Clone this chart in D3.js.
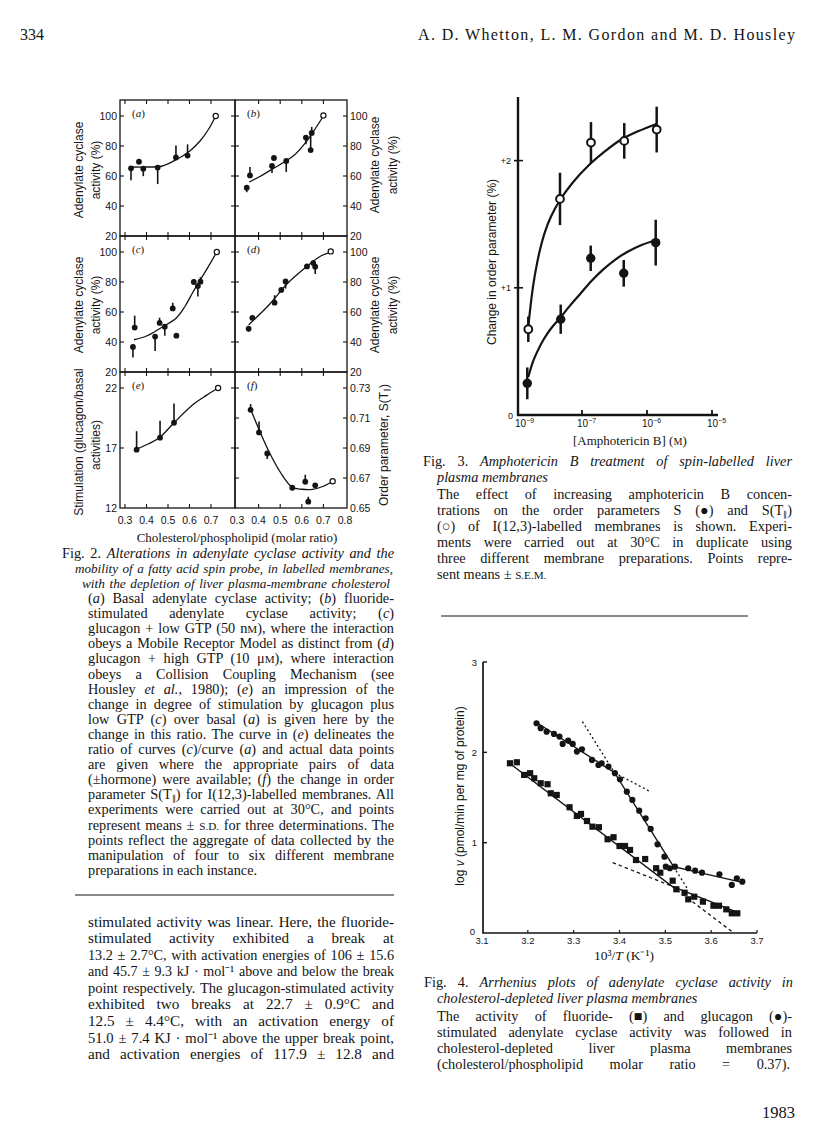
<!DOCTYPE html>
<html>
<head>
<meta charset="utf-8">
<script src="https://cdn.jsdelivr.net/npm/d3@7"></script>
<style>
  body { margin: 0; background: #fff; }
  svg { display: block; }
  text { fill: #141414; }
  .serif { font-family: "Liberation Serif", "Times New Roman", serif; }
  .sans { font-family: "Liberation Sans", Arial, sans-serif; }
</style>
</head>
<body>
<svg id="page" width="816" height="1136"></svg>
<script>
const svg = d3.select('#page');
const ink = '#141414';

// ---------- Fig. 2 data ----------
const ratioTicks = [0.3, 0.4, 0.5, 0.6, 0.7, 0.8];
const activityTicks = [20, 40, 60, 80, 100];
const stimTicks = [12, 17, 22];
const orderTicks = [0.65, 0.67, 0.69, 0.71, 0.73];

// [cholesterol/phospholipid, value, error bar (+ up / - down)]
const basalPts = [[0.328, 65.1, -8], [0.365, 69.5, 0], [0.385, 64.9, -5], [0.452, 65.6, -11], [0.537, 72.4, 8], [0.591, 73.6, 7.5]];
const basalOpen = [0.722, 100];
const basalFit = [[0.33, 66], [0.40, 66], [0.47, 66.5], [0.54, 71], [0.60, 76.5], [0.65, 83.5], [0.69, 91.5], [0.722, 100]];

const fluoridePts2 = [[0.345, 52.2, -3], [0.36, 60.4, 5.6], [0.462, 66.7, -4.7], [0.471, 72, 0], [0.528, 70, -7.3], [0.619, 85.6, -4.5], [0.646, 88.7, 4], [0.641, 77.3, 11]];
const fluorideOpen2 = [0.70, 100.4];
const fluorideFit2 = [[0.357, 56], [0.41, 60], [0.468, 65], [0.56, 73.3], [0.623, 83.3], [0.669, 93], [0.70, 100]];

const lowGtpPts = [[0.337, 36.7, -7], [0.345, 49.6, 8], [0.44, 43.6, -9.6], [0.461, 52.7, 3.5], [0.485, 50.2, -6], [0.522, 62.4, 3.8], [0.539, 44.2, 0], [0.62, 80, 2], [0.639, 77.3, -7], [0.651, 80.2, 3]];
const lowGtpOpen = [0.727, 100];
const lowGtpFit = [[0.342, 41.5], [0.40, 44], [0.462, 49], [0.54, 56.2], [0.58, 64], [0.617, 73.5], [0.68, 88.4], [0.727, 100]];

const highGtpPts = [[0.354, 48.9, -2], [0.371, 56.1, 0], [0.474, 66.2, 5], [0.505, 74.7, 0], [0.525, 80.4, -4.8], [0.624, 90.4, 0], [0.653, 92.6, 2], [0.662, 90.2, -4.8]];
const highGtpOpen = [0.734, 100.4];
const highGtpFit = [[0.354, 51.5], [0.45, 65], [0.53, 78.5], [0.62, 90], [0.69, 97.5], [0.734, 100]];

const stimPts = [[0.354, 16.86, 1.54], [0.463, 17.86, 1.4], [0.528, 19.1, 1.6]];
const stimOpen = [0.733, 22];
const stimFit = [[0.354, 16.9], [0.41, 17.35], [0.463, 17.9], [0.528, 19.1], [0.618, 20.64], [0.68, 21.4], [0.733, 22]];

const orderPts = [[0.363, 0.7155, 0.0038], [0.402, 0.7004, 0.0073], [0.44, 0.6864, -0.0037], [0.556, 0.6635, -0.001], [0.616, 0.6675, 0.0047], [0.63, 0.6542, 0.0033], [0.662, 0.6651, -0.0015]];
const orderOpen = [0.743, 0.6678];
const orderFit = [[0.36, 0.717], [0.40, 0.703], [0.45, 0.687], [0.50, 0.674], [0.556, 0.6638], [0.60, 0.6625], [0.649, 0.6624], [0.70, 0.6645], [0.743, 0.6678]];

// ---------- Fig. 3 data ----------
const amphoTicks = [-9, -7, -6, -5];           // log10 [Amphotericin B]
const changeTicks = [0, 1, 2];
const changeTickLabels = ['0', '+1', '+2'];
// [log10 conc, change %, s.e.m.]
const sParPts = [[-8.732, 0.674, 0.1], [-7.71, 1.699, 0.206], [-6.862, 2.142, 0.161], [-6.35, 2.155, 0.14], [-5.851, 2.244, 0.18]];
const sPts = [[-8.765, 0.249, 0.125], [-7.687, 0.753, 0.115], [-6.866, 1.232, 0.1], [-6.358, 1.114, 0.105], [-5.866, 1.355, 0.18]];
const sParFit = [[-8.732, 0.70], [-8.677, 0.82], [-8.613, 0.95], [-8.548, 1.06], [-8.452, 1.19], [-8.355, 1.30], [-8.194, 1.44], [-8.0, 1.56], [-7.71, 1.69], [-7.29, 1.83], [-6.923, 1.95], [-6.677, 2.06], [-6.415, 2.16], [-6.138, 2.23], [-5.846, 2.29]];
const sFit = [[-8.732, 0.30], [-8.581, 0.42], [-8.419, 0.51], [-8.248, 0.59], [-8.0, 0.68], [-7.687, 0.77], [-7.387, 0.86], [-7.065, 0.95], [-6.862, 1.05], [-6.672, 1.145], [-6.492, 1.22], [-6.312, 1.28], [-6.092, 1.335], [-5.851, 1.376]];

// ---------- Fig. 4 data ----------
const invTTicks = [3.1, 3.2, 3.3, 3.4, 3.5, 3.6, 3.7];
const logVTicks = [0, 1, 2, 3];
const glucagonPts = [[3.219, 2.322], [3.228, 2.267], [3.241, 2.229], [3.257, 2.204], [3.269, 2.174], [3.276, 2.093], [3.288, 2.13], [3.298, 2.093], [3.307, 2.008], [3.318, 2.034], [3.340, 1.916], [3.354, 1.860], [3.361, 1.879], [3.376, 1.842], [3.390, 1.769], [3.401, 1.702], [3.416, 1.565], [3.428, 1.473], [3.443, 1.354], [3.457, 1.270], [3.468, 1.152], [3.483, 0.982], [3.498, 0.845], [3.501, 0.734], [3.510, 0.717], [3.521, 0.734], [3.550, 0.717], [3.565, 0.690], [3.580, 0.668], [3.618, 0.650], [3.645, 0.532], [3.656, 0.606], [3.668, 0.568]];
const fluoridePts4 = [[3.161, 1.879], [3.176, 1.890], [3.192, 1.750], [3.205, 1.769], [3.214, 1.713], [3.228, 1.658], [3.243, 1.647], [3.250, 1.547], [3.263, 1.528], [3.291, 1.392], [3.307, 1.296], [3.316, 1.318], [3.329, 1.240], [3.341, 1.177], [3.355, 1.171], [3.374, 1.038], [3.387, 1.060], [3.400, 0.963], [3.412, 0.963], [3.423, 0.919], [3.436, 0.808], [3.456, 0.819], [3.480, 0.717], [3.489, 0.668], [3.516, 0.579], [3.524, 0.484], [3.542, 0.446], [3.550, 0.373], [3.563, 0.402], [3.582, 0.347], [3.605, 0.302], [3.617, 0.302], [3.633, 0.262], [3.645, 0.218], [3.657, 0.218]];
const glucagonFit = [[3.219, 2.33], [3.389, 1.775], [3.518, 0.734], [3.668, 0.561]];
const fluorideFit = [[3.16, 1.879], [3.514, 0.52], [3.663, 0.218]];
const glucagonExtrap = [[[3.319, 2.34], [3.389, 1.775]], [[3.389, 1.775], [3.467, 1.565]], [[3.518, 0.734], [3.547, 0.50]]];
const fluorideExtrap = [[[3.385, 0.78], [3.514, 0.52]], [[3.514, 0.52], [3.645, 0.017]]];

// ---------- text helpers ----------
// markup: *italic*  {small caps}  ~subscript~
function parseSegs(str) {
  const out = [];
  let cur = '', it = false, sc = false, sub = false;
  for (const ch of str) {
    if ('*{}~'.includes(ch)) {
      if (cur) out.push({ t: cur, it, sc, sub });
      cur = '';
      if (ch === '*') it = !it;
      else if (ch === '{') sc = true;
      else if (ch === '}') sc = false;
      else sub = !sub;
    } else cur += ch;
  }
  if (cur) out.push({ t: cur, it, sc, sub });
  return out;
}

function fillSegs(t, str) {
  parseSegs(str).forEach(s => {
    const ts = t.append('tspan').text(s.t);
    if (s.it) ts.attr('font-style', 'italic');
    if (s.sc) ts.attr('font-size', '0.78em');
    if (s.sub) ts.attr('font-size', '0.58em').attr('baseline-shift', '-0.2em');
  });
}

// width > 0: justify to that width (shrinks the font when the line is too long)
function writeLine(x, y, str, size, width, family) {
  const t = svg.append('text')
    .attr('class', family || 'serif')
    .attr('x', x).attr('y', y)
    .attr('font-size', size);
  fillSegs(t, str);
  if (width) {
    const gaps = (str.replace(/[*{}~]/g, '').match(/ /g) || []).length;
    let natural = t.node().getComputedTextLength();
    const minGap = gaps * 1.2;
    if (natural + minGap > width) {
      t.attr('font-size', size * (width - minGap) / natural);
      natural = t.node().getComputedTextLength();
    }
    if (gaps) t.style('word-spacing', ((width - natural) / gaps) + 'px');
  }
  return t;
}

function rotLabel(x, y, str, size, family) {
  const t = svg.append('text')
    .attr('class', family || 'sans')
    .attr('font-size', size)
    .attr('text-anchor', 'middle')
    .attr('transform', `translate(${x},${y}) rotate(-90)`);
  fillSegs(t, str);
  return t;
}

// ---------- page header / footer ----------
writeLine(20, 40, '334', 16);
svg.append('text').attr('class', 'serif').attr('x', 418).attr('y', 40).attr('font-size', 16)
  .attr('textLength', 377).attr('lengthAdjust', 'spacing')
  .text('A. D. Whetton, L. M. Gordon and M. D. Housley');
svg.append('text').attr('class', 'serif').attr('x', 795).attr('y', 1118).attr('font-size', 16.5)
  .attr('text-anchor', 'end').text('1983');

// ---------- Fig. 2 panels ----------
const fig2Cols = [
  { x0: 120, x1: 235, range: [125, 232.5], labels: ratioTicks.slice(0, 5) },
  { x0: 235, x1: 347, range: [237, 345], labels: ratioTicks }
];
const fig2Rows = [{ y0: 100, y1: 236 }, { y0: 236, y1: 372 }, { y0: 372, y1: 508 }];

const fig2Panels = [
  { tag: 'a', col: 0, row: 0, domain: [20, 110.67], ticks: activityTicks, pts: basalPts, open: basalOpen, fit: basalFit },
  { tag: 'b', col: 1, row: 0, domain: [20, 110.67], ticks: activityTicks, pts: fluoridePts2, open: fluorideOpen2, fit: fluorideFit2 },
  { tag: 'c', col: 0, row: 1, domain: [20, 110.67], ticks: activityTicks, pts: lowGtpPts, open: lowGtpOpen, fit: lowGtpFit },
  { tag: 'd', col: 1, row: 1, domain: [20, 110.67], ticks: activityTicks, pts: highGtpPts, open: highGtpOpen, fit: highGtpFit },
  { tag: 'e', col: 0, row: 2, domain: [12, 23.33], ticks: stimTicks, pts: stimPts, open: stimOpen, fit: stimFit },
  { tag: 'f', col: 1, row: 2, domain: [0.65, 0.7407], ticks: orderTicks, pts: orderPts, open: orderOpen, fit: orderFit }
];

function drawPanel(p) {
  const col = fig2Cols[p.col], row = fig2Rows[p.row];
  const x = d3.scaleLinear().domain([0.3, 0.8]).range(col.range);
  const y = d3.scaleLinear().domain(p.domain).range([row.y1, row.y0]);
  const g = svg.append('g');

  g.append('rect')
    .attr('x', col.x0).attr('y', row.y0)
    .attr('width', col.x1 - col.x0).attr('height', row.y1 - row.y0)
    .attr('fill', 'none').attr('stroke', ink).attr('stroke-width', 1.3);

  // inward ticks
  ratioTicks.filter(t => x(t) > col.x0 + 3 && x(t) < col.x1 - 3).forEach(t => {
    g.append('line').attr('x1', x(t)).attr('x2', x(t)).attr('y1', row.y0).attr('y2', row.y0 + 4)
      .attr('stroke', ink).attr('stroke-width', 1.1);
    g.append('line').attr('x1', x(t)).attr('x2', x(t)).attr('y1', row.y1 - 4).attr('y2', row.y1)
      .attr('stroke', ink).attr('stroke-width', 1.1);
  });
  p.ticks.filter(t => y(t) > row.y0 + 3 && y(t) < row.y1 - 3).forEach(t => {
    g.append('line').attr('x1', col.x0).attr('x2', col.x0 + 4).attr('y1', y(t)).attr('y2', y(t))
      .attr('stroke', ink).attr('stroke-width', 1.1);
    g.append('line').attr('x1', col.x1 - 4).attr('x2', col.x1).attr('y1', y(t)).attr('y2', y(t))
      .attr('stroke', ink).attr('stroke-width', 1.1);
  });

  // tick labels on outer side
  const fmt = p.tag === 'f' ? d3.format('.2f') : d3.format('d');
  g.selectAll('text.yt').data(p.ticks).join('text')
    .attr('class', 'sans')
    .attr('font-size', 10.5)
    .attr('x', p.col === 0 ? col.x0 - 3 : col.x1 + 3)
    .attr('y', d => y(d) + 3.8)
    .attr('text-anchor', p.col === 0 ? 'end' : 'start')
    .text(d => fmt(d));

  if (p.row === 2) {
    g.selectAll('text.xt').data(col.labels).join('text')
      .attr('class', 'sans')
      .attr('font-size', 10.5)
      .attr('x', d => x(d))
      .attr('y', 524)
      .attr('text-anchor', 'middle')
      .text(d => d3.format('.1f')(d));
  }

  // panel tag
  const tag = g.append('text').attr('class', 'serif').attr('font-size', 11)
    .attr('x', col.x0 + 12).attr('y', row.y0 + 17);
  tag.append('tspan').text('(');
  tag.append('tspan').attr('font-style', 'italic').text(p.tag);
  tag.append('tspan').text(')');

  // fitted curve
  g.append('path')
    .datum(p.fit)
    .attr('d', d3.line().x(d => x(d[0])).y(d => y(d[1])).curve(d3.curveCatmullRom))
    .attr('fill', 'none').attr('stroke', ink).attr('stroke-width', 1.3);

  // error bars + points
  g.selectAll('line.err').data(p.pts.filter(d => d[2] !== 0)).join('line')
    .attr('x1', d => x(d[0])).attr('x2', d => x(d[0]))
    .attr('y1', d => y(d[1])).attr('y2', d => y(d[1] + d[2]))
    .attr('stroke', ink).attr('stroke-width', 1.6);
  g.selectAll('circle.pt').data(p.pts).join('circle')
    .attr('cx', d => x(d[0])).attr('cy', d => y(d[1])).attr('r', 2.9)
    .attr('fill', ink);
  g.append('circle')
    .attr('cx', x(p.open[0])).attr('cy', y(p.open[1])).attr('r', 2.6)
    .attr('fill', '#fff').attr('stroke', ink).attr('stroke-width', 1.2);
}
fig2Panels.forEach(drawPanel);

// Fig. 2 axis titles
rotLabel(83, 170, 'Adenylate cyclase', 12);
rotLabel(100, 170, 'activity (%)', 12);
rotLabel(83, 305, 'Adenylate cyclase', 12);
rotLabel(100, 305, 'activity (%)', 12);
rotLabel(83, 442, 'Stimulation (glucagon/basal', 12);
rotLabel(100, 445, 'activities)', 12);
rotLabel(379, 165, 'Adenylate cyclase', 12);
rotLabel(397, 165, 'activity (%)', 12);
rotLabel(379, 305, 'Adenylate cyclase', 12);
rotLabel(397, 305, 'activity (%)', 12);
rotLabel(388, 445, 'Order parameter, S(T~∥~)', 12);
svg.append('text').attr('class', 'serif').attr('font-size', 13)
  .attr('x', 237).attr('y', 542).attr('text-anchor', 'middle')
  .text('Cholesterol/phospholipid (molar ratio)');

// Fig. 2 caption
const fig2Caption = [
  ['Fig. 2. *Alterations in adenylate cyclase activity and the*', 62, 332],
  ['*mobility of a fatty acid spin probe, in labelled membranes,*', 75, 318],
  ['*with the depletion of liver plasma-membrane cholesterol*', 82, 308],
  ['(*a*) Basal adenylate cyclase activity; (*b*) fluoride-', 88, 306],
  ['stimulated adenylate cyclase activity; (*c*)', 88, 306],
  ['glucagon + low GTP (50 n{M}), where the interaction', 88, 306],
  ['obeys a Mobile Receptor Model as distinct from (*d*)', 88, 306],
  ['glucagon + high GTP (10 μ{M}), where interaction', 88, 306],
  ['obeys a Collision Coupling Mechanism (see', 88, 306],
  ['Housley *et al.*, 1980); (*e*) an impression of the', 88, 306],
  ['change in degree of stimulation by glucagon plus', 88, 306],
  ['low GTP (*c*) over basal (*a*) is given here by the', 88, 306],
  ['change in this ratio. The curve in (*e*) delineates the', 88, 306],
  ['ratio of curves (*c*)/curve (*a*) and actual data points', 88, 306],
  ['are given where the appropriate pairs of data', 88, 306],
  ['(±hormone) were available; (*f*) the change in order', 88, 306],
  ['parameter S(T~∥~) for I(12,3)-labelled membranes. All', 88, 306],
  ['experiments were carried out at 30°C, and points', 88, 306],
  ['represent means ± {S.D.} for three determinations. The', 88, 306],
  ['points reflect the aggregate of data collected by the', 88, 306],
  ['manipulation of four to six different membrane', 88, 306],
  ['preparations in each instance.', 88, 0]
];
fig2Caption.forEach(([s, x, w], i) => writeLine(x, 557.7 + i * 15.1, s, 14.3, w));

svg.append('line').attr('x1', 75).attr('x2', 394).attr('y1', 895).attr('y2', 895)
  .attr('stroke', ink).attr('stroke-width', 1.2);

// body text
const bodyLines = [
  'stimulated activity was linear. Here, the fluoride-',
  'stimulated activity exhibited a break at',
  '13.2 ± 2.7°C, with activation energies of 106 ± 15.6',
  'and 45.7 ± 9.3 kJ · mol⁻¹ above and below the break',
  'point respectively. The glucagon-stimulated activity',
  'exhibited two breaks at 22.7 ± 0.9°C and',
  '12.5 ± 4.4°C, with an activation energy of',
  '51.0 ± 7.4 KJ · mol⁻¹ above the upper break point,',
  'and activation energies of 117.9 ± 12.8 and'
];
bodyLines.forEach((s, i) => writeLine(88, 926.7 + i * 16.55, s, 15.2, 306));

// ---------- Fig. 3 ----------
const x3 = d3.scaleLinear().domain([-9, -7, -6, -5]).range([520, 582, 647, 712]);
const y3 = d3.scaleLinear().domain([0, 2.5]).range([415, 97]);
const g3 = svg.append('g');
g3.append('path').attr('d', `M${x3(-9) - 2},${y3(2.5)}V${y3(0)}H718`)
  .attr('fill', 'none').attr('stroke', ink).attr('stroke-width', 2.4);
changeTicks.filter(t => t > 0).forEach(t => {
  g3.append('line').attr('x1', 514).attr('x2', 523).attr('y1', y3(t)).attr('y2', y3(t))
    .attr('stroke', ink).attr('stroke-width', 1.6);
});
g3.selectAll('text.yt').data(changeTicks).join('text')
  .attr('class', 'sans').attr('font-size', 9)
  .attr('x', d => d === 0 ? 513 : 511).attr('y', d => y3(d) + (d === 0 ? 4 : 3))
  .attr('text-anchor', 'end')
  .text((d, i) => changeTickLabels[i]);
amphoTicks.filter(t => t > -9).forEach(t => {
  g3.append('line').attr('x1', x3(t)).attr('x2', x3(t)).attr('y1', y3(0) - 5).attr('y2', y3(0))
    .attr('stroke', ink).attr('stroke-width', 1.8);
});
amphoTicks.forEach(t => {
  const lbl = g3.append('text').attr('class', 'sans').attr('font-size', 10)
    .attr('x', x3(t) - 5).attr('y', 427);
  lbl.append('tspan').text('10');
  lbl.append('tspan').attr('font-size', 7).attr('dy', -4).text('−' + Math.abs(t));
});

const line3 = d3.line().x(d => x3(d[0])).y(d => y3(d[1])).curve(d3.curveCatmullRom);
[sParFit, sFit].forEach(f => {
  g3.append('path').datum(f).attr('d', line3)
    .attr('fill', 'none').attr('stroke', ink).attr('stroke-width', 2.2);
});
[sParPts, sPts].forEach(pts => {
  g3.selectAll(null).data(pts).join('line')
    .attr('x1', d => x3(d[0])).attr('x2', d => x3(d[0]))
    .attr('y1', d => y3(d[1] - d[2])).attr('y2', d => y3(d[1] + d[2]))
    .attr('stroke', ink).attr('stroke-width', 2.5);
});
g3.selectAll(null).data(sPts).join('circle')
  .attr('cx', d => x3(d[0])).attr('cy', d => y3(d[1])).attr('r', 4.7)
  .attr('fill', ink);
g3.selectAll(null).data(sParPts).join('circle')
  .attr('cx', d => x3(d[0])).attr('cy', d => y3(d[1])).attr('r', 3.9)
  .attr('fill', '#fff').attr('stroke', ink).attr('stroke-width', 2);

rotLabel(496, 262, 'Change in order parameter (%)', 12);
writeLine(573, 445, '[Amphotericin B] ({M})', 13);

const fig3Caption = [
  ['Fig. 3. *Amphotericin B treatment of spin-labelled liver*', 423, 466, 369],
  ['*plasma membranes*', 437, 482, 0],
  ['The effect of increasing amphotericin B concen-', 437, 499, 355],
  ['trations on the order parameters S (●) and S(T~∥~)', 437, 515, 355],
  ['(○) of I(12,3)-labelled membranes is shown. Experi-', 437, 531, 355],
  ['ments were carried out at 30°C in duplicate using', 437, 547, 355],
  ['three different membrane preparations. Points repre-', 437, 563, 355],
  ['sent means ± {S.E.M.}', 437, 579, 0]
];
fig3Caption.forEach(([s, x, y, w]) => writeLine(x, y, s, 14.3, w));

svg.append('line').attr('x1', 441).attr('x2', 748).attr('y1', 616).attr('y2', 616)
  .attr('stroke', ink).attr('stroke-width', 1.2);

// ---------- Fig. 4 ----------
const x4 = d3.scaleLinear().domain([3.1, 3.7]).range([482, 757]);
const y4 = d3.scaleLinear().domain([0, 3]).range([933, 662]);
const g4 = svg.append('g');
g4.append('path').attr('d', `M${x4(3.1) + 1},${y4(3)}V${y4(0)}H${x4(3.7)}`)
  .attr('fill', 'none').attr('stroke', ink).attr('stroke-width', 1.7);
logVTicks.filter(t => t > 0).forEach(t => {
  g4.append('line').attr('x1', x4(3.1) + 1).attr('x2', x4(3.1) + 5).attr('y1', y4(t)).attr('y2', y4(t))
    .attr('stroke', ink).attr('stroke-width', 1.4);
});
invTTicks.filter(t => t > 3.1).forEach(t => {
  g4.append('line').attr('x1', x4(t)).attr('x2', x4(t)).attr('y1', y4(0) - 3).attr('y2', y4(0))
    .attr('stroke', ink).attr('stroke-width', 1.2);
});
g4.selectAll('text.yt').data(logVTicks).join('text')
  .attr('class', 'sans').attr('font-size', 9.5)
  .attr('x', d => d === 0 ? 475 : 477).attr('y', d => y4(d) + (d === 0 ? 2 : 3.5))
  .attr('text-anchor', 'end')
  .text(d => d);
g4.selectAll('text.xt').data(invTTicks).join('text')
  .attr('class', 'sans').attr('font-size', 9.5)
  .attr('x', d => x4(d)).attr('y', 944)
  .attr('text-anchor', 'middle')
  .text(d => d3.format('.1f')(d));

const line4 = d3.line().x(d => x4(d[0])).y(d => y4(d[1]));
[glucagonFit, fluorideFit].forEach(f => {
  g4.append('path').datum(f).attr('d', line4)
    .attr('fill', 'none').attr('stroke', ink).attr('stroke-width', 1.4);
});
glucagonExtrap.forEach(seg => {
  g4.append('path').datum(seg).attr('d', line4)
    .attr('fill', 'none').attr('stroke', ink).attr('stroke-width', 1.3).attr('stroke-dasharray', '2,2.6');
});
fluorideExtrap.forEach(seg => {
  g4.append('path').datum(seg).attr('d', line4)
    .attr('fill', 'none').attr('stroke', ink).attr('stroke-width', 1.3).attr('stroke-dasharray', '3.5,3');
});
g4.selectAll(null).data(glucagonPts).join('circle')
  .attr('cx', d => x4(d[0])).attr('cy', d => y4(d[1])).attr('r', 3.1)
  .attr('fill', ink);
g4.selectAll(null).data(fluoridePts4).join('rect')
  .attr('x', d => x4(d[0]) - 3.1).attr('y', d => y4(d[1]) - 3.1)
  .attr('width', 6.2).attr('height', 6.2)
  .attr('fill', ink);

rotLabel(464, 796, 'log *v* (pmol/min per mg of protein)', 12);
writeLine(594, 960, '10³/*T* (K⁻¹)', 13.5);

const fig4Caption = [
  ['Fig. 4. *Arrhenius plots of adenylate cyclase activity in*', 424, 987, 369],
  ['*cholesterol-depleted liver plasma membranes*', 437, 1003, 0],
  ['The activity of fluoride- (■) and glucagon (●)-', 437, 1021, 355],
  ['stimulated adenylate cyclase activity was followed in', 437, 1037, 355],
  ['cholesterol-depleted liver plasma membranes', 437, 1053, 355],
  ['(cholesterol/phospholipid molar ratio = 0.37).', 437, 1069, 353]
];
fig4Caption.forEach(([s, x, y, w]) => writeLine(x, y, s, 14.3, w));
</script>
</body>
</html>
